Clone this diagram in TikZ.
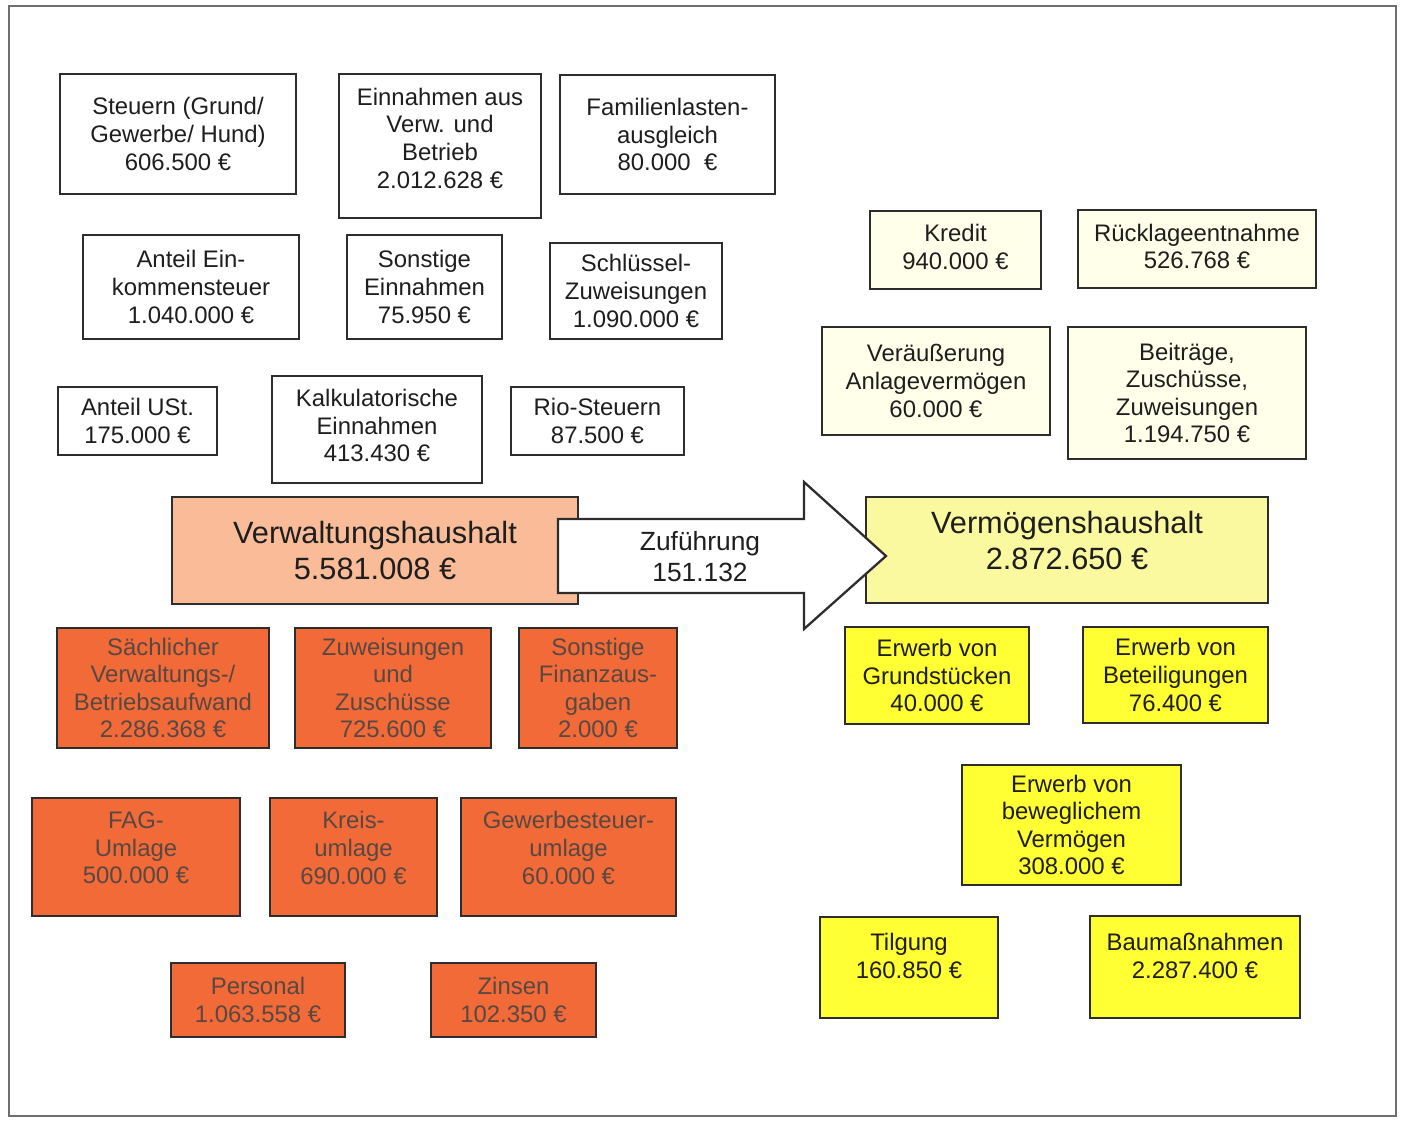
\documentclass[tikz,border=0pt]{standalone}
\usepackage{fontspec}
\setmainfont{Liberation Sans}
\usepackage{tikz}

\definecolor{rand}{RGB}{45,45,45}
\definecolor{rahmengrau}{RGB}{110,110,110}
\definecolor{creme}{RGB}{255,255,234}
\definecolor{lachs}{RGB}{249,187,152}
\definecolor{hellgelb}{RGB}{251,249,160}
\definecolor{gelb}{RGB}{255,255,51}
\definecolor{orangerot}{RGB}{242,106,56}
\definecolor{ausgtext}{RGB}{88,72,66}
\definecolor{schrift}{RGB}{30,30,30}

\newcommand{\kleinschrift}{\fontsize{13.6}{15.7}\selectfont}
\newcommand{\grossschrift}{\fontsize{17.5}{20.5}\selectfont}
\newcommand{\pfeilschrift}{\fontsize{15}{17.6}\selectfont}

\tikzset{
  kasten/.style={draw=rand, line width=1.3pt, align=center, inner sep=0pt,
    text=schrift, font=\kleinschrift},
  einnahme/.style={kasten, fill=white},
  vmeinnahme/.style={kasten, fill=creme},
  ausgabe/.style={kasten, fill=orangerot, text=ausgtext},
  vmausgabe/.style={kasten, fill=gelb},
  haushalt/.style={kasten, font=\grossschrift},
}

\begin{document}
\begin{tikzpicture}

\useasboundingbox (0,0) rectangle (28.1,-22.42);

\draw[rahmengrau, line width=1pt] (0.18,-0.12) rectangle (27.92,-22.32);

% Einnahmen Verwaltungshaushalt
\node[einnahme, minimum width=4.72cm, minimum height=2.40cm] (steuern) at (3.56,-2.68)
  {Steuern (Grund/\\Gewerbe/ Hund)\\606.500 €};
\node[einnahme, minimum width=4.04cm, minimum height=2.88cm, text depth=9pt] (verwbetrieb) at (8.80,-2.92)
  {Einnahmen aus\\Verw. und\\Betrieb\\2.012.628 €};
\node[einnahme, minimum width=4.30cm, minimum height=2.38cm] (familien) at (13.35,-2.69)
  {Familienlasten-\\ausgleich\\80.000 \ €};
\node[einnahme, minimum width=4.32cm, minimum height=2.08cm] (est) at (3.82,-5.74)
  {Anteil Ein-\\kommensteuer\\1.040.000 €};
\node[einnahme, minimum width=3.10cm, minimum height=2.08cm] (sonstein) at (8.49,-5.74)
  {Sonstige\\Einnahmen\\75.950 €};
\node[einnahme, minimum width=3.44cm, minimum height=1.92cm] (schluessel) at (12.72,-5.82)
  {Schlüssel-\\Zuweisungen\\1.090.000 €};
\node[einnahme, minimum width=3.18cm, minimum height=1.36cm] (ust) at (2.75,-8.42)
  {Anteil USt.\\175.000 €};
\node[einnahme, minimum width=4.20cm, minimum height=2.14cm, text depth=4.5pt] (kalk) at (7.54,-8.59)
  {Kalkulatorische\\Einnahmen\\413.430 €};
\node[einnahme, minimum width=3.46cm, minimum height=1.36cm] (rio) at (11.95,-8.42)
  {Rio-Steuern\\87.500 €};

% Einnahmen Vermoegenshaushalt
\node[vmeinnahme, minimum width=3.42cm, minimum height=1.56cm, text depth=3.5pt] (kredit) at (19.11,-5.00)
  {Kredit\\940.000 €};
\node[vmeinnahme, minimum width=4.76cm, minimum height=1.56cm, text depth=3pt] (ruecklage) at (23.94,-4.98)
  {Rücklageentnahme\\526.768 €};
\node[vmeinnahme, minimum width=4.56cm, minimum height=2.16cm] (veraeusserung) at (18.72,-7.62)
  {Veräußerung\\Anlagevermögen\\60.000 €};
\node[vmeinnahme, minimum width=4.76cm, minimum height=2.64cm] (beitraege) at (23.74,-7.86)
  {Beiträge,\\Zuschüsse,\\Zuweisungen\\1.194.750 €};

% Haushalte
\node[haushalt, fill=lachs, minimum width=8.12cm, minimum height=2.14cm] (verwhh) at (7.50,-11.01)
  {Verwaltungshaushalt\\5.581.008 €};
\node[haushalt, fill=hellgelb, minimum width=8.04cm, minimum height=2.12cm, text depth=11.5pt] (vermhh) at (21.34,-11.00)
  {Vermögenshaushalt\\2.872.650 €};

% Zufuehrung
\draw[draw=rand, line width=1.3pt, fill=white] (11.16,-10.38) -- (16.08,-10.38) -- (16.08,-9.64)
  -- (17.72,-11.12) -- (16.08,-12.58) -- (16.08,-11.86) -- (11.16,-11.86) -- cycle;
\node[align=center, text=schrift, font=\pfeilschrift] (zufuehrung) at (14.00,-11.14)
  {Zuführung\\151.132};

% Ausgaben Verwaltungshaushalt
\node[ausgabe, minimum width=4.24cm, minimum height=2.40cm] (saechlich) at (3.26,-13.76)
  {Sächlicher\\Verwaltungs-/\\Betriebsaufwand\\2.286.368 €};
\node[ausgabe, minimum width=3.92cm, minimum height=2.40cm] (zuweisungen) at (7.86,-13.76)
  {Zuweisungen\\und\\Zuschüsse\\725.600 €};
\node[ausgabe, minimum width=3.16cm, minimum height=2.40cm] (finanz) at (11.96,-13.76)
  {Sonstige\\Finanzaus-\\gaben\\2.000 €};
\node[ausgabe, minimum width=4.16cm, minimum height=2.36cm, text depth=10.5pt] (fag) at (2.72,-17.14)
  {FAG-\\Umlage\\500.000 €};
\node[ausgabe, minimum width=3.34cm, minimum height=2.36cm, text depth=10.5pt] (kreis) at (7.07,-17.14)
  {Kreis-\\umlage\\690.000 €};
\node[ausgabe, minimum width=4.30cm, minimum height=2.36cm, text depth=10.5pt] (gewst) at (11.37,-17.14)
  {Gewerbesteuer-\\umlage\\60.000 €};
\node[ausgabe, minimum width=3.48cm, minimum height=1.48cm] (personal) at (5.16,-20.00)
  {Personal\\1.063.558 €};
\node[ausgabe, minimum width=3.30cm, minimum height=1.48cm] (zinsen) at (10.27,-20.00)
  {Zinsen\\102.350 €};

% Ausgaben Vermoegenshaushalt
\node[vmausgabe, minimum width=3.68cm, minimum height=1.94cm] (grund) at (18.74,-13.51)
  {Erwerb von\\Grundstücken\\40.000 €};
\node[vmausgabe, minimum width=3.70cm, minimum height=1.92cm] (beteiligung) at (23.51,-13.50)
  {Erwerb von\\Beteiligungen\\76.400 €};
\node[vmausgabe, minimum width=4.38cm, minimum height=2.40cm] (beweglich) at (21.43,-16.50)
  {Erwerb von\\beweglichem\\Vermögen\\308.000 €};
\node[vmausgabe, minimum width=3.56cm, minimum height=2.02cm, text depth=13pt] (tilgung) at (18.18,-19.35)
  {Tilgung\\160.850 €};
\node[vmausgabe, minimum width=4.20cm, minimum height=2.04cm, text depth=13pt] (bau) at (23.90,-19.34)
  {Baumaßnahmen\\2.287.400 €};

\end{tikzpicture}
\end{document}
